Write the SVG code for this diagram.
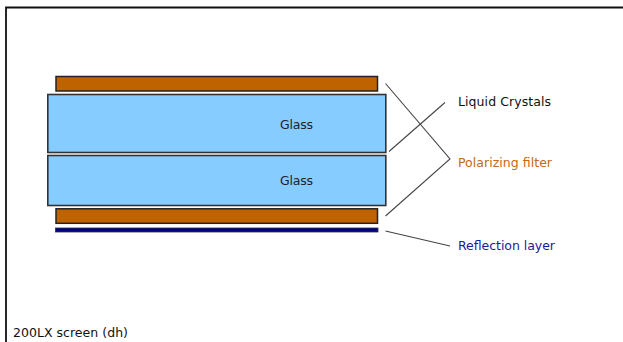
<svg xmlns="http://www.w3.org/2000/svg" width="623" height="342" viewBox="0 0 623 342">
<style>
.b{stroke:#222;stroke-width:1.5}
.f{fill:#bf6200}
.g{fill:#87ccff;stroke:#333;stroke-width:1.6}
.l{fill:none;stroke:#444;stroke-width:1.1}
text{font-family:"DejaVu Sans",sans-serif;font-size:12.500px}
</style>
<rect width="623" height="342" fill="#fff"/>
<path d="M623 7.500H6V342" fill="none" stroke="#111" stroke-width="1.800"/>
<g id="filter-top"><rect class="b f" x="56" y="76.500" width="321.500" height="14.500"/></g>
<g id="glass-top"><rect class="g" x="47.800" y="94.500" width="338" height="58"/><text x="280" y="128.500" fill="#222" textLength="33">Glass</text></g>
<g id="glass-bottom"><rect class="g" x="47.800" y="155.500" width="338" height="50"/><text x="280" y="185" fill="#222" textLength="33">Glass</text></g>
<g id="filter-bottom"><rect class="b f" x="56" y="208.800" width="321.500" height="14.500"/></g>
<g id="reflection"><rect x="55.500" y="228" width="322.500" height="4" fill="#00008b" stroke="#333" stroke-width=".8"/></g>
<g id="connectors">
<path class="l" d="M385.500 83.500L450 159L385.500 216"/>
<path class="l" d="M389 151.500L445 102.500"/>
<path class="l" d="M385.500 231L450 246"/>
</g>
<g id="label-lc"><text x="458" y="105.500" fill="#111" textLength="93">Liquid Crystals</text></g>
<g id="label-pf"><text x="458" y="167" fill="#c46a10" textLength="94">Polarizing filter</text></g>
<g id="label-rl"><text x="458" y="250" fill="#1a1a9a" textLength="97">Reflection layer</text></g>
<g id="caption"><text x="13" y="337" fill="#111" textLength="115">200LX screen (dh)</text></g>
</svg>
